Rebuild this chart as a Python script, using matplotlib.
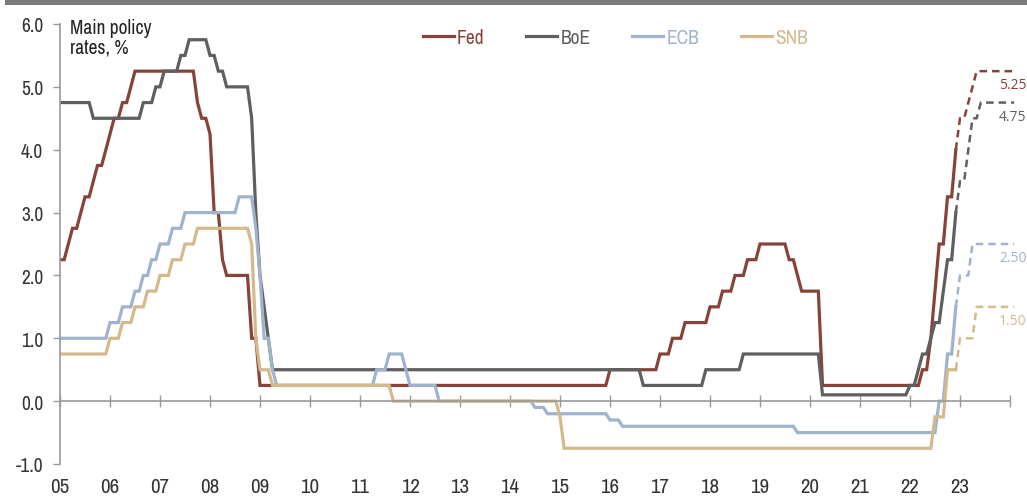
import matplotlib
matplotlib.use("Agg")
import matplotlib.pyplot as plt
from matplotlib.patches import Rectangle
import pandas as pd

plt.rcParams['font.family'] = ['Archivo Narrow', 'DejaVu Sans']

# policy rates, value at start of month, listed at each change
fed_changes = [("2005-01", 2.25), ("2005-03", 2.50), ("2005-04", 2.75), ("2005-06", 3.00),
               ("2005-07", 3.25), ("2005-09", 3.50), ("2005-10", 3.75), ("2005-12", 4.00),
               ("2006-01", 4.25), ("2006-02", 4.50), ("2006-04", 4.75), ("2006-06", 5.00),
               ("2006-07", 5.25), ("2007-10", 4.75), ("2007-11", 4.50), ("2008-01", 4.25),
               ("2008-02", 3.00), ("2008-04", 2.25), ("2008-05", 2.00), ("2008-11", 1.00),
               ("2009-01", 0.25), ("2016-01", 0.50), ("2017-01", 0.75), ("2017-04", 1.00),
               ("2017-07", 1.25), ("2018-01", 1.50), ("2018-04", 1.75), ("2018-07", 2.00),
               ("2018-10", 2.25), ("2019-01", 2.50), ("2019-08", 2.25), ("2019-10", 2.00),
               ("2019-11", 1.75), ("2020-04", 0.25), ("2022-04", 0.50), ("2022-06", 1.00),
               ("2022-07", 1.75), ("2022-08", 2.50), ("2022-10", 3.25), ("2022-12", 4.00)]
boe_changes = [("2005-01", 4.75), ("2005-09", 4.50), ("2006-09", 4.75), ("2006-12", 5.00),
               ("2007-02", 5.25), ("2007-06", 5.50), ("2007-08", 5.75), ("2008-01", 5.50),
               ("2008-03", 5.25), ("2008-05", 5.00), ("2008-11", 4.50), ("2008-12", 3.00),
               ("2009-01", 2.00), ("2009-02", 1.50), ("2009-03", 1.00), ("2009-04", 0.50),
               ("2016-09", 0.25), ("2017-12", 0.50), ("2018-09", 0.75), ("2020-04", 0.10),
               ("2022-01", 0.25), ("2022-03", 0.50), ("2022-04", 0.75), ("2022-06", 1.00),
               ("2022-07", 1.25), ("2022-09", 1.75), ("2022-10", 2.25), ("2022-12", 3.00)]
ecb_changes = [("2005-01", 1.00), ("2006-01", 1.25), ("2006-04", 1.50), ("2006-07", 1.75),
               ("2006-09", 2.00), ("2006-11", 2.25), ("2007-01", 2.50), ("2007-04", 2.75),
               ("2007-07", 3.00), ("2008-08", 3.25), ("2008-12", 2.75), ("2009-01", 2.00),
               ("2009-02", 1.00), ("2009-04", 0.50), ("2009-05", 0.25), ("2011-05", 0.50),
               ("2011-08", 0.75), ("2011-12", 0.50), ("2012-01", 0.25), ("2012-08", 0.00),
               ("2014-07", -0.10), ("2014-10", -0.20), ("2016-01", -0.30), ("2016-04", -0.40),
               ("2019-10", -0.50), ("2022-08", 0.00), ("2022-10", 0.75), ("2022-12", 1.50)]
snb_changes = [("2005-01", 0.75), ("2006-01", 1.00), ("2006-04", 1.25), ("2006-07", 1.50),
               ("2006-10", 1.75), ("2007-01", 2.00), ("2007-04", 2.25), ("2007-07", 2.50),
               ("2007-10", 2.75), ("2008-11", 2.50), ("2008-12", 1.00), ("2009-01", 0.50),
               ("2009-04", 0.25), ("2011-09", 0.00), ("2015-01", -0.25), ("2015-02", -0.75),
               ("2022-07", -0.25), ("2022-10", 0.50)]
actual_end = "2022-12"

# market-implied path (dashed)
fed_fwd = [("2022-12", 4.00), ("2023-01", 4.50), ("2023-03", 4.75), ("2023-04", 5.00), ("2023-05", 5.25)]
boe_fwd = [("2022-12", 3.00), ("2023-01", 3.50), ("2023-03", 4.00), ("2023-04", 4.50), ("2023-06", 4.75)]
ecb_fwd = [("2022-12", 1.50), ("2023-01", 2.00), ("2023-04", 2.50)]
snb_fwd = [("2022-12", 0.50), ("2023-01", 1.00), ("2023-05", 1.50)]
fwd_end = "2024-02"

banks = ["Fed", "BoE", "ECB", "SNB"]
colors = ["#87433a", "#5f5f5f", "#9fb3cc", "#d4b98c"]
end_labels = ["5.25", "4.75", "2.50", "1.50"]

year_ticks = list(range(2005, 2025))
year_labels = ["05", "06", "07", "08", "09", "10", "11", "12", "13", "14",
               "15", "16", "17", "18", "19", "20", "21", "22", "23", ""]
y_ticks = [-1, 0, 1, 2, 3, 4, 5, 6]


def monthly(changes, end):
    s = pd.Series({pd.Period(d, "M"): v for d, v in changes})
    idx = pd.period_range(s.index[0], end, freq="M")
    s = s.reindex(idx).ffill()
    x = idx.year + (idx.month - 1) / 12.0
    return x, s.values


fig = plt.figure(figsize=(10.27, 5.02), dpi=100)
ax = fig.add_axes([60 / 1027, 37 / 502, 962 / 1027, 440 / 502])

grey = "#9a9a9a"
actuals = [fed_changes, boe_changes, ecb_changes, snb_changes]
forwards = [fed_fwd, boe_fwd, ecb_fwd, snb_fwd]

for name, col, ch in zip(banks, colors, actuals):
    x, y = monthly(ch, actual_end)
    ax.plot(x, y, color=col, lw=2.3, label=name, solid_joinstyle="miter")

for col, fw, lab in zip(colors, forwards, end_labels):
    x, y = monthly(fw, fwd_end)
    ax.plot(x, y, color=col, lw=1.8, dashes=(3, 2))
    ax.text(x[-1] + 0.25, y[-1] - 0.1, lab, color=col, fontsize=10,
            family="Open Sans", ha="right", va="top", clip_on=False)

ax.set_xlim(2005, 2024.24)
ax.set_ylim(-1, 6)

ax.spines["top"].set_visible(False)
ax.spines["right"].set_visible(False)
ax.spines["left"].set_color(grey)
ax.spines["left"].set_linewidth(1.2)
ax.spines["bottom"].set_position(("data", 0))
ax.spines["bottom"].set_bounds(2005, 2024)
ax.spines["bottom"].set_color(grey)
ax.spines["bottom"].set_linewidth(1.2)

ax.set_yticks(y_ticks)
ax.set_yticklabels(["%.1f" % v for v in y_ticks])
ax.set_xticks(year_ticks)
ax.set_xticklabels(year_labels)
ax.tick_params(axis="y", direction="out", length=5, width=1, color=grey,
               labelsize=14, labelcolor="#333333", pad=7)
ax.tick_params(axis="x", direction="inout", length=9, width=1, color=grey,
               labelsize=15, labelcolor="#333333", pad=50)

fig.text(70 / 1027, 1 - 19 / 502, "Main policy\nrates, %", fontsize=14,
         color="#222222", va="top", ha="left", linespacing=1.05)

fig.legend(loc="center", bbox_to_anchor=(0.599, 0.924), ncol=4, frameon=False,
           fontsize=14, handlelength=1.6, handletextpad=0.15, columnspacing=2.15,
           labelcolor="linecolor")

fig.add_artist(Rectangle((5 / 1027, 1 - 6 / 502), 1 - 5 / 1027, 5 / 502,
                         transform=fig.transFigure, color="#7b7b7b", lw=0))

fig.savefig("out.png", dpi=100)
